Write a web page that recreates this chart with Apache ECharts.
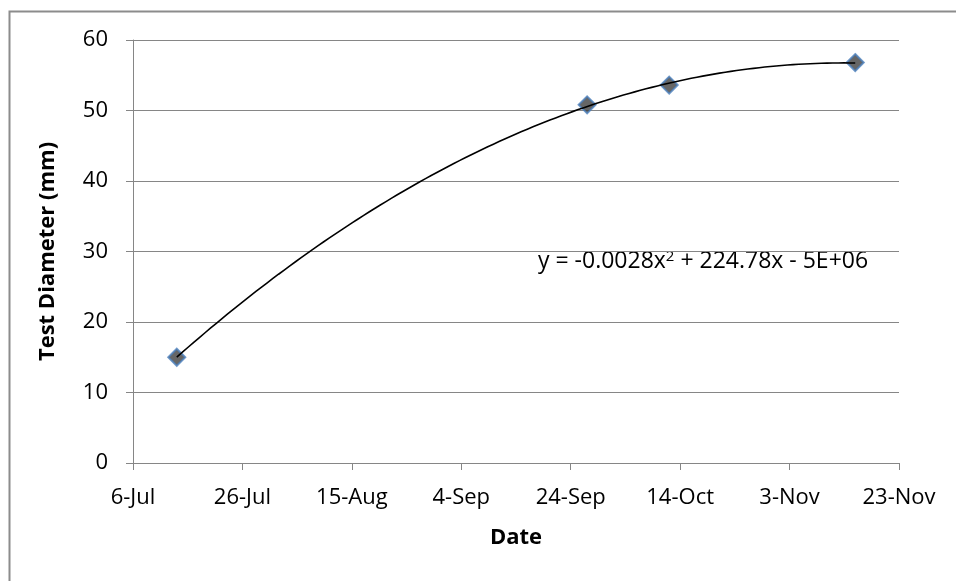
<!DOCTYPE html>
<html>
<head>
<meta charset="utf-8">
<script src="https://cdn.jsdelivr.net/npm/echarts@6/dist/echarts.min.js"></script>
<style>html,body{margin:0;padding:0;background:#fff}#c{width:956px;height:581px}</style>
</head>
<body>
<div id="c"></div>
<script>
// ---- data ----
const baseDate = '2013-07-06';
const dates = ['2013-07-14', '2013-09-27', '2013-10-12', '2013-11-15'];
const diameters = [15.0, 50.8, 53.6, 56.8];
const tickLabels = ['6-Jul', '26-Jul', '15-Aug', '4-Sep', '24-Sep', '14-Oct', '3-Nov', '23-Nov'];
const equationText = 'y = -0.0028x{sup|2} + 224.78x - 5E+06';

// ---- helpers ----
const DAY = 86400000;
const base = Date.parse(baseDate + 'T00:00:00Z');
const toDay = s => (Date.parse(s + 'T00:00:00Z') - base) / DAY;
const xs = dates.map(toDay);
const pts = xs.map((x, i) => [x, diameters[i]]);

// least squares quadratic fit (trendline, like the spreadsheet)
function quadFit(x, y) {
  let S = [0,0,0,0,0], T = [0,0,0];
  for (let i = 0; i < x.length; i++) {
    let p = 1;
    for (let k = 0; k < 5; k++) { S[k] += p; if (k < 3) T[k] += p * y[i]; p *= x[i]; }
  }
  const A = [[S[0],S[1],S[2],T[0]],[S[1],S[2],S[3],T[1]],[S[2],S[3],S[4],T[2]]];
  for (let c = 0; c < 3; c++) {
    let m = c; for (let r = c+1; r < 3; r++) if (Math.abs(A[r][c]) > Math.abs(A[m][c])) m = r;
    [A[c], A[m]] = [A[m], A[c]];
    for (let r = 0; r < 3; r++) if (r !== c) {
      const f = A[r][c] / A[c][c];
      for (let k = c; k < 4; k++) A[r][k] -= f * A[c][k];
    }
  }
  return [A[0][3]/A[0][0], A[1][3]/A[1][1], A[2][3]/A[2][2]];
}
const coef = quadFit(xs, diameters);
const trend = [];
const x0 = xs[0], x1 = xs[xs.length - 1], N = 120;
for (let i = 0; i <= N; i++) {
  const x = x0 + (x1 - x0) * i / N;
  trend.push([x, coef[0] + coef[1] * x + coef[2] * x * x]);
}

const FONT = 'Open Sans';
const FS = 22;
const chart = echarts.init(document.getElementById('c'));
chart.setOption({
  animation: false,
  backgroundColor: '#fff',
  grid: { left: 133, right: 57, top: 40, bottom: 118 },
  xAxis: {
    type: 'value', min: 0, max: 140, interval: 20,
    name: 'Date', nameLocation: 'middle', nameGap: 64,
    nameTextStyle: { fontFamily: FONT, fontSize: FS, fontWeight: 'bold', color: '#000' },
    axisLine: { show: true, lineStyle: { color: '#868686', width: 1 } },
    axisTick: { show: true, inside: false, length: 7, lineStyle: { color: '#868686' } },
    axisLabel: { margin: 24, fontFamily: FONT, fontSize: FS, color: '#000',
      formatter: v => tickLabels[Math.round(v / 20)] || '' },
    splitLine: { show: false }
  },
  yAxis: {
    type: 'value', min: 0, max: 60, interval: 10,
    name: 'Test Diameter (mm)', nameLocation: 'middle', nameGap: 74, nameRotate: 90,
    nameTextStyle: { fontFamily: FONT, fontSize: FS, fontWeight: 'bold', color: '#000' },
    axisLine: { show: true, lineStyle: { color: '#868686', width: 1 } },
    axisTick: { show: true, inside: false, length: 7, lineStyle: { color: '#868686' } },
    axisLabel: { margin: 25, fontFamily: FONT, fontSize: FS, color: '#000' },
    splitLine: { show: true, lineStyle: { color: '#868686', width: 1 } }
  },
  graphic: [
    { type: 'rect', left: 7, top: 9, shape: { width: 1200, height: 1200 },
      style: { fill: 'none', stroke: '#8c8c8c', lineWidth: 2 }, silent: true },
    { type: 'text', left: 538, top: 249,
      style: { text: equationText, fontFamily: FONT, fontSize: 23, fill: '#000',
        rich: { sup: { fontFamily: FONT, fontSize: 15, verticalAlign: 'top', padding: [0,0,10,0] } } } }
  ],
  series: [
    { type: 'scatter', data: pts, symbol: 'diamond', symbolSize: 17, z: 2,
      itemStyle: { color: '#404040', borderColor: '#4a7ebb', borderWidth: 2 } },
    { type: 'line', data: trend, showSymbol: false, smooth: false, z: 3,
      lineStyle: { color: '#000', width: 1.6 } }
  ]
});
</script>
</body>
</html>
